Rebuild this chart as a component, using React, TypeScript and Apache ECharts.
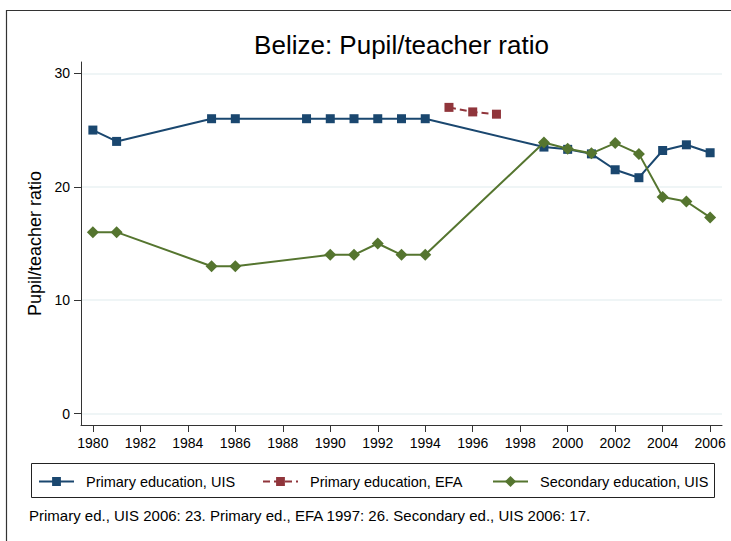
import React, { useEffect, useRef } from "react";
import * as echarts from "echarts";

const chartTitle = "Belize: Pupil/teacher ratio";
const yAxisTitle = "Pupil/teacher ratio";
const noteText =
  "Primary ed., UIS 2006: 23. Primary ed., EFA 1997: 26. Secondary ed., UIS 2006: 17.";

const seriesNames = [
  "Primary education, UIS",
  "Primary education, EFA",
  "Secondary education, UIS",
];

const primaryUisYears = [1980, 1981, 1985, 1986, 1989, 1990, 1991, 1992, 1993, 1994, 1999, 2000, 2001, 2002, 2003, 2004, 2005, 2006];
const primaryUisValues = [25, 24, 26, 26, 26, 26, 26, 26, 26, 26, 23.5, 23.3, 22.9, 21.5, 20.8, 23.2, 23.7, 23.0];

const primaryEfaYears = [1995, 1996, 1997];
const primaryEfaValues = [27.0, 26.6, 26.4];

const secondaryUisYears = [1980, 1981, 1985, 1986, 1990, 1991, 1992, 1993, 1994, 1999, 2000, 2001, 2002, 2003, 2004, 2005, 2006];
const secondaryUisValues = [16, 16, 13, 13, 14, 14, 15, 14, 14, 23.9, 23.35, 22.95, 23.85, 22.9, 19.1, 18.7, 17.3];

const xTickLabels = [1980, 1982, 1984, 1986, 1988, 1990, 1992, 1994, 1996, 1998, 2000, 2002, 2004, 2006];
const yTickLabels = [0, 10, 20, 30];

const colors = ["#1a476f", "#90353b", "#55752f"];
const FONT = "'Liberation Sans', Arial, Helvetica, sans-serif";

function pairs(xs: number[], ys: number[]) {
  return xs.map((x, i) => [x, ys[i]]);
}

export default function App() {
  const ref = useRef<HTMLDivElement>(null);

  useEffect(() => {
    if (!ref.current) return;
    const chart = echarts.init(ref.current, undefined, { renderer: "svg" });

    const legendTextStyle = {
      fontFamily: FONT,
      fontSize: 14.5,
      color: "#000",
      padding: [0, 0, 0, 7],
    };
    const legendBase = {
      orient: "horizontal",
      top: 474,
      itemWidth: 35,
      itemHeight: 11,
      padding: 0,
      textStyle: legendTextStyle,
    };

    const option: any = {
      animation: false,
      backgroundColor: "#ffffff",
      textStyle: { fontFamily: FONT },
      title: {
        text: chartTitle,
        left: 396.5,
        top: 26.5,
        textAlign: "center",
        textStyle: {
          fontFamily: FONT,
          fontSize: 26,
          fontWeight: "normal",
          color: "#000",
        },
      },
      grid: { left: 81, top: 62, width: 641, height: 363 },
      xAxis: {
        type: "value",
        min: 1979.5,
        max: 2006.5,
        axisLine: { show: true, onZero: false, lineStyle: { color: "#333", width: 1 } },
        axisTick: { show: true, length: 7, customValues: xTickLabels, lineStyle: { color: "#333" } },
        axisLabel: {
          customValues: xTickLabels,
          formatter: (v: number) => String(v),
          fontFamily: FONT,
          fontSize: 14,
          color: "#000",
          margin: 11,
        },
        splitLine: { show: false },
      },
      yAxis: {
        type: "value",
        min: -1,
        max: 31,
        name: yAxisTitle,
        nameLocation: "middle",
        nameGap: 36,
        nameTextStyle: { fontFamily: FONT, fontSize: 18, color: "#000" },
        axisLine: { show: true, onZero: false, lineStyle: { color: "#333", width: 1 } },
        axisTick: { show: true, length: 7, customValues: yTickLabels, lineStyle: { color: "#333" } },
        axisLabel: {
          customValues: yTickLabels,
          formatter: (v: number) => String(v),
          fontFamily: FONT,
          fontSize: 14,
          color: "#000",
          margin: 11,
        },
        splitLine: { show: true, lineStyle: { color: "#eaf2f3", width: 1.5 } },
      },
      legend: [
        { ...legendBase, left: 38, data: [seriesNames[0]] },
        { ...legendBase, left: 262, data: [seriesNames[1]] },
        { ...legendBase, left: 492, itemHeight: 14, data: [seriesNames[2]] },
      ],
      graphic: [
        {
          type: "rect",
          shape: { x: 6.5, y: 10.5, width: 900, height: 700 },
          style: { fill: "none", stroke: "#333", lineWidth: 1.2 },
          silent: true,
          z: -10,
        },
        {
          type: "rect",
          shape: { x: 31.5, y: 463.5, width: 683, height: 34 },
          style: { fill: "#fff", stroke: "#222", lineWidth: 1 },
          silent: true,
          z: -5,
        },
        {
          type: "text",
          x: 29,
          y: 515,
          style: {
            text: noteText,
            fontFamily: FONT,
            fontSize: 15,
            fill: "#000",
            textVerticalAlign: "middle",
            verticalAlign: "middle",
          },
          silent: true,
        },
      ],
      series: [
        {
          name: seriesNames[0],
          type: "line",
          data: pairs(primaryUisYears, primaryUisValues),
          symbol: "rect",
          symbolSize: 9,
          itemStyle: { color: colors[0] },
          lineStyle: { color: colors[0], width: 2 },
          z: 2,
        },
        {
          name: seriesNames[1],
          type: "line",
          data: pairs(primaryEfaYears, primaryEfaValues),
          symbol: "rect",
          symbolSize: 9,
          itemStyle: { color: colors[1] },
          lineStyle: { color: colors[1], width: 2, type: [7, 4] },
          z: 3,
        },
        {
          name: seriesNames[2],
          type: "line",
          data: pairs(secondaryUisYears, secondaryUisValues),
          symbol: "diamond",
          symbolSize: 12,
          itemStyle: { color: colors[2] },
          lineStyle: { color: colors[2], width: 2 },
          z: 4,
        },
      ],
    };

    chart.setOption(option);
    return () => {
      chart.dispose();
    };
  }, []);

  return (
    <div
      ref={ref}
      style={{ position: "fixed", left: 0, top: 0, width: 731, height: 541 }}
    />
  );
}
